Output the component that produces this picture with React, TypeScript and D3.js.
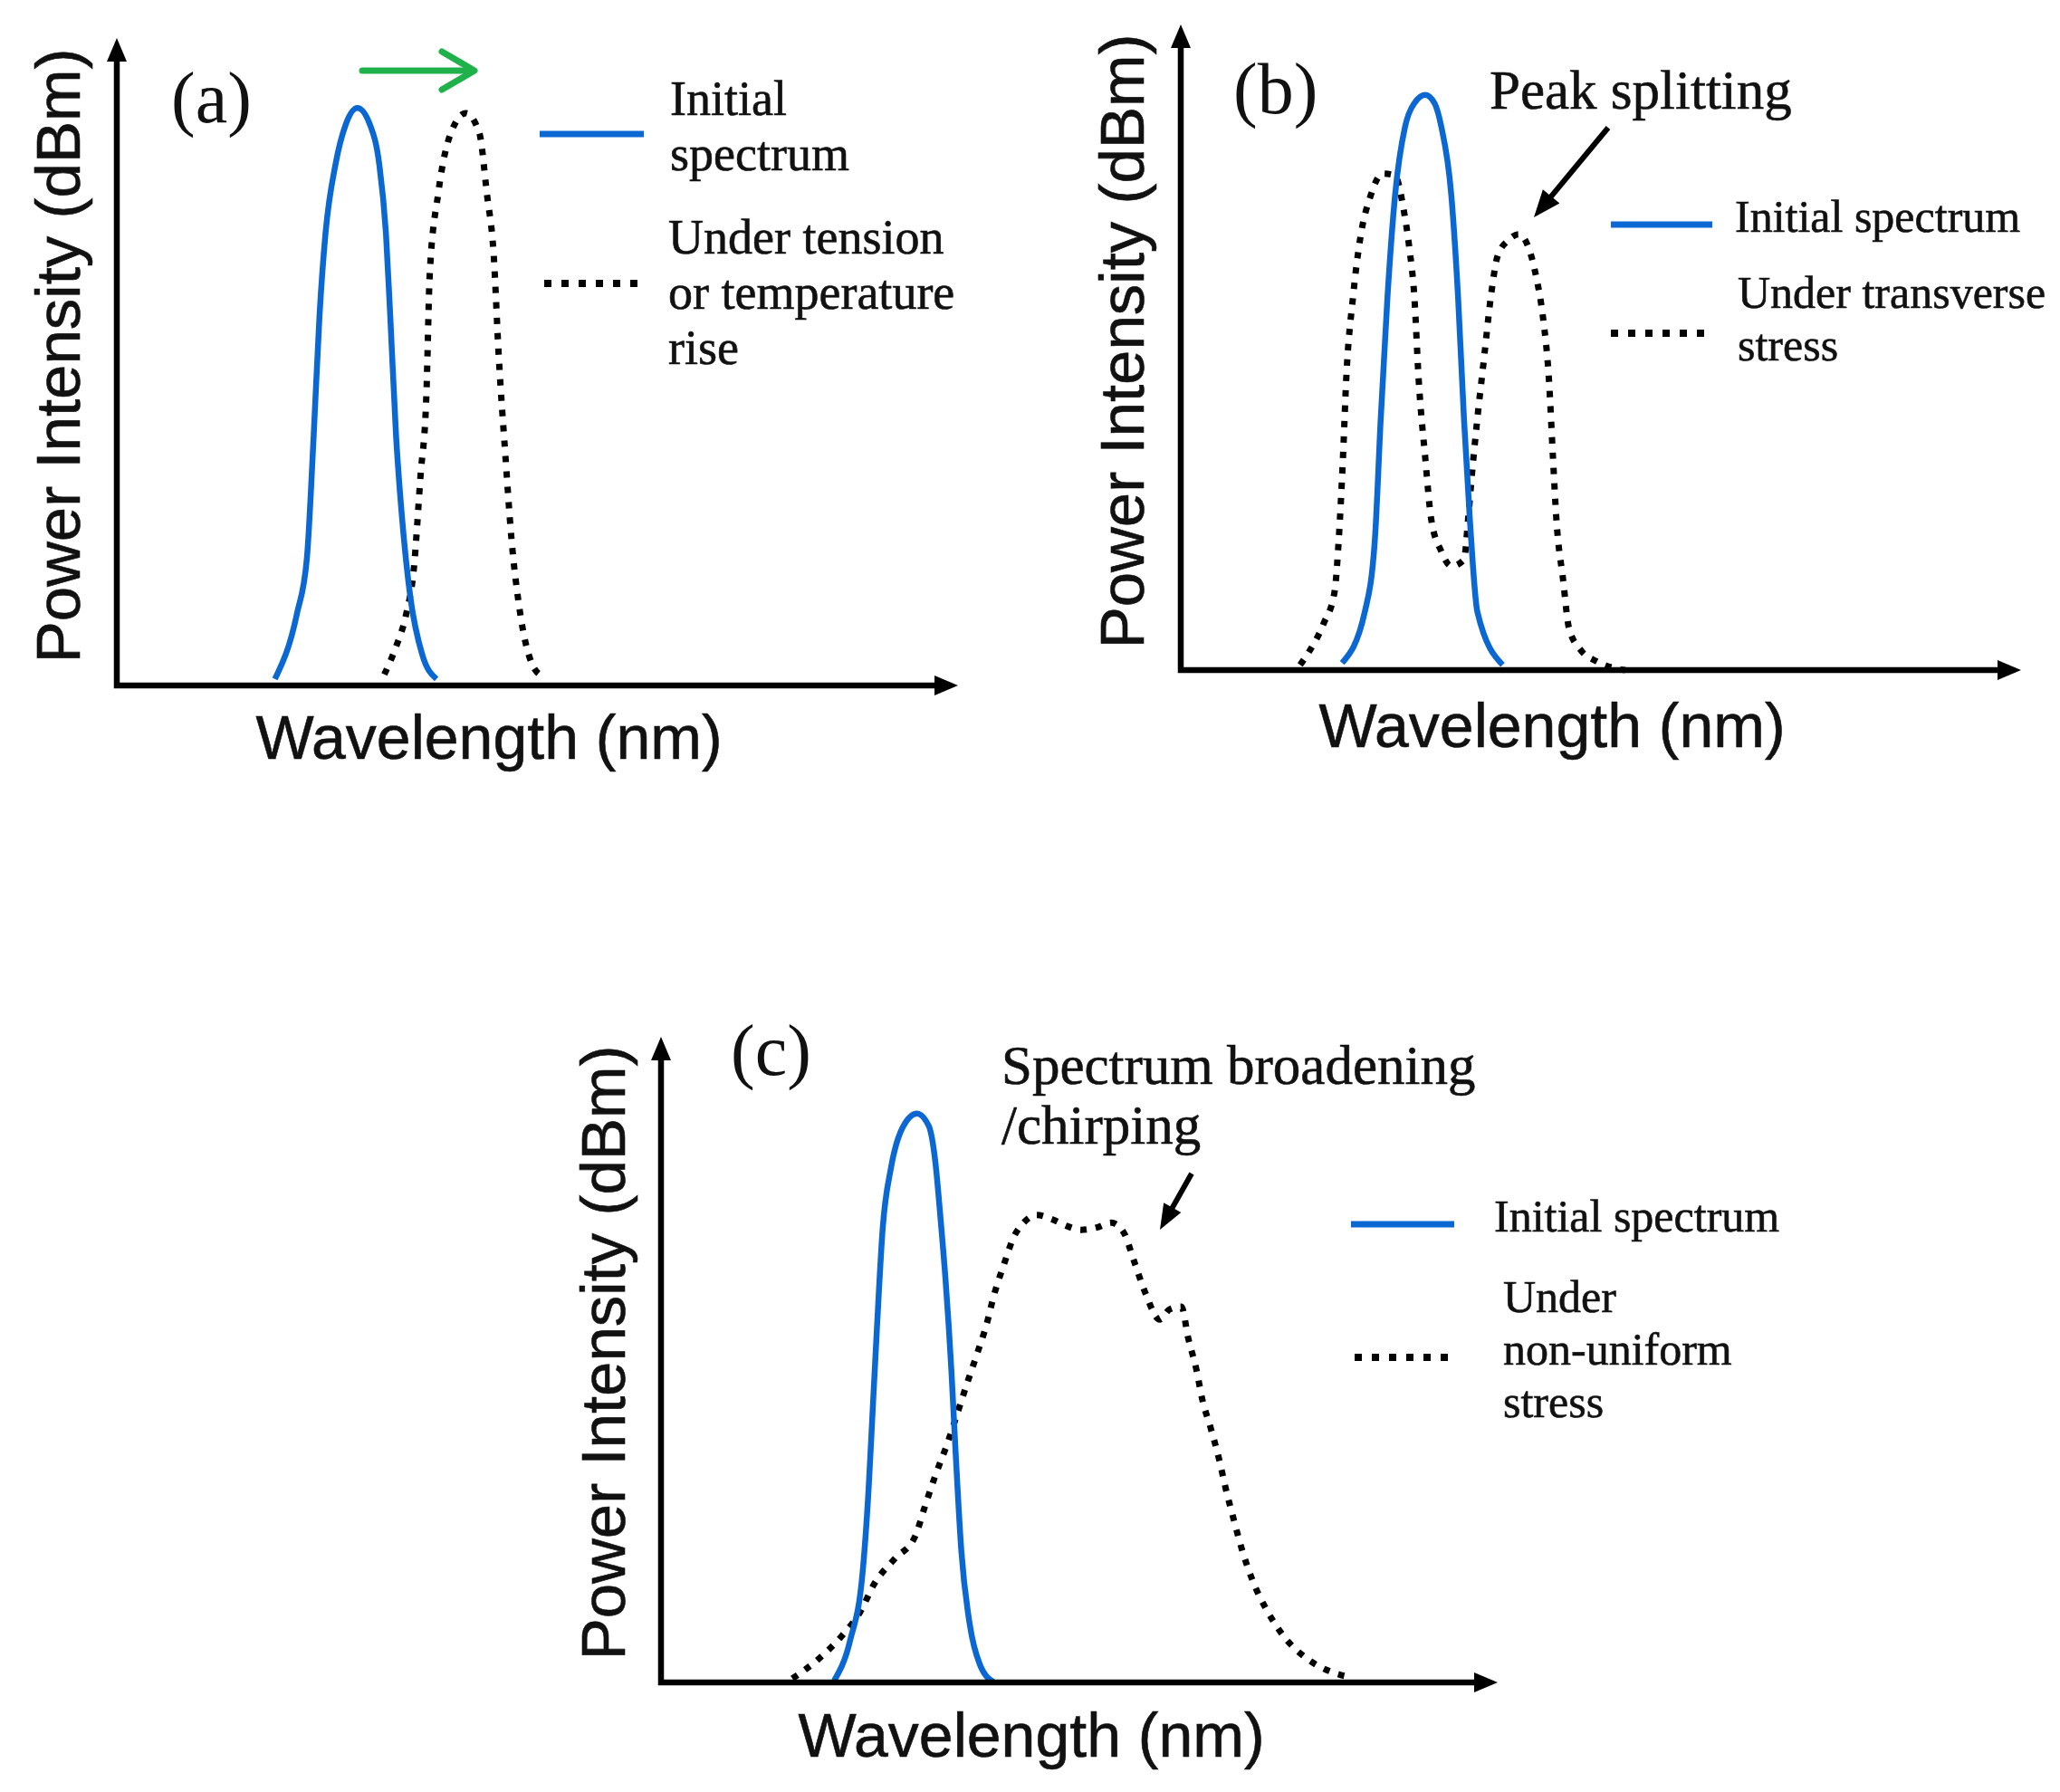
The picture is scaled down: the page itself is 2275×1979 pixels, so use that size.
import React from 'react';
import * as d3 from 'd3';

type Pt = [number, number];

// ---- Panel (a): shift of the Bragg peak ----
const initialA: Pt[] = [
  [18.8, 1], [21.4, 11.0], [22.6, 19.7], [23.4, 38.5], [24.1, 57.2], [24.8, 69.7], [26.0, 80.5],
  [27.2, 86.6], [28.6, 89.2], [30.1, 86.6], [31.2, 80.5], [32.0, 69.7], [32.5, 57.2], [33.2, 38.5],
  [33.9, 26.0], [34.9, 13.6], [36.3, 4.8], [38.0, 1.0],
];
const tensionA: Pt[] = [
  [31.8, 1.7], [33.2, 6.0], [34.4, 11.0], [35.3, 17.9], [36.1, 32.3], [36.8, 44.8], [37.2, 63.5],
  [38.2, 75.9], [39.7, 85.3], [41.5, 88.4], [43.1, 85.3], [44.0, 75.9], [44.8, 66.6], [45.4, 51.0],
  [46.2, 35.4], [46.9, 22.9], [47.9, 11.6], [49.3, 3.5], [50.5, 1.5],
];

// ---- Panel (b): peak splitting ----
const initialB: Pt[] = [
  [19.2, 1.1], [21.9, 9.0], [23.1, 20.2], [23.8, 39.0], [24.6, 57.8], [25.5, 73.5], [26.7, 84.2],
  [27.8, 87.8], [29.1, 89.1], [30.2, 87.8], [31.0, 84.2], [32.2, 73.5], [33.0, 57.8], [33.7, 39.0],
  [34.4, 23.4], [35.3, 9.0], [38.3, 0.8],
];
const transverseB: Pt[] = [
  [14.2, 0.8], [15.2, 2.7], [17.0, 7.2], [18.3, 12.1], [18.8, 20.2], [19.3, 32.8], [19.7, 45.3],
  [20.5, 57.8], [21.4, 67.2], [22.6, 73.5], [24.0, 76.9], [25.5, 76.6], [26.5, 71.5], [27.2, 65.4],
  [27.8, 57.8], [28.3, 45.3], [29.1, 32.8], [29.8, 23.4], [31.0, 18.4], [32.2, 16.1], [33.7, 17.1],
  [34.2, 23.4], [34.6, 29.6], [35.3, 39.0], [36.1, 48.4], [36.9, 57.8], [37.7, 64.1], [39.0, 66.6],
  [40.2, 67.5], [41.4, 65.4], [42.3, 60.9], [43.1, 54.7], [43.8, 45.3], [44.3, 32.8], [44.7, 23.4],
  [45.5, 14.0], [46.2, 6.5], [47.6, 3.1], [49.4, 1.4], [50.8, 0.6], [52.9, 0],
];

// ---- Panel (c): broadening / chirping ----
const initialC: Pt[] = [
  [20.7, 0.3], [22.6, 6.5], [24.1, 17.1], [24.8, 29.7], [25.3, 42.2], [25.8, 54.7], [26.5, 70.4],
  [27.5, 79.8], [28.9, 86.0], [30.6, 88.1], [32.0, 86.2], [32.8, 80.5], [33.4, 72.0], [34.0, 62.5],
  [34.7, 48.5], [35.2, 35.9], [35.9, 20.3], [36.9, 9.0], [38.1, 2.8], [39.8, 0],
];
const nonUniformC: Pt[] = [
  [15.7, 0.6], [18.8, 3.6], [21.6, 7.2], [23.8, 10.9], [25.5, 15.3], [27.9, 19.1], [30.4, 22.7],
  [31.6, 27.5], [32.8, 32.1], [34.2, 36.9], [35.3, 41.2], [36.5, 46.0], [37.7, 50.6], [38.9, 55.4],
  [39.8, 60.0], [41.0, 64.8], [42.2, 69.1], [43.2, 71.0], [44.9, 72.4], [46.8, 71.7], [48.5, 70.7],
  [50.2, 70.1], [52.2, 70.5], [53.8, 71.2], [55.3, 69.7], [56.5, 65.4], [57.9, 60.3], [59.6, 56.2],
  [60.8, 57.8], [62.2, 58.2], [63.0, 53.4], [64.0, 48.4], [64.7, 43.8], [65.7, 39.4], [66.7, 34.6],
  [67.5, 30.0], [68.5, 25.0], [69.5, 20.3], [70.7, 15.8], [72.4, 11.2], [74.4, 7.2], [77.3, 3.6],
  [80.4, 1.5], [82.4, 0.8],
];

// ---- texts ----
const xAxisLabel = 'Wavelength (nm)';
const yAxisLabel = 'Power Intensity (dBm)';
const panelTags = ['(a)', '(b)', '(c)'];
const legendInitialA = ['Initial', 'spectrum'];
const legendStressA = ['Under tension', 'or temperature', 'rise'];
const legendInitialB = ['Initial spectrum'];
const legendStressB = ['Under transverse', 'stress'];
const annotationB = ['Peak splitting'];
const legendInitialC = ['Initial spectrum'];
const legendStressC = ['Under', 'non-uniform', 'stress'];
const annotationC = ['Spectrum broadening', '/chirping'];

const BLUE = '#0b67d1';
const GREEN = '#1fb24a';
const SANS = '"Liberation Sans", Arial, sans-serif';
const SERIF = '"Liberation Serif", "Times New Roman", serif';
const DOT = '7 10';

const lineGen = (sx: d3.ScaleLinear<number, number>, sy: d3.ScaleLinear<number, number>) =>
  d3
    .line<Pt>()
    .x((d) => sx(d[0]))
    .y((d) => sy(d[1]))
    .curve(d3.curveMonotoneX);

function FilledArrow({ x1, y1, x2, y2, len = 30, half = 12, width = 6 }: any) {
  const ang = Math.atan2(y2 - y1, x2 - x1);
  const bx = x2 - len * Math.cos(ang);
  const by = y2 - len * Math.sin(ang);
  const px = -Math.sin(ang) * half;
  const py = Math.cos(ang) * half;
  return (
    <g>
      <line x1={x1} y1={y1} x2={bx + Math.cos(ang) * 2} y2={by + Math.sin(ang) * 2} stroke="#000" strokeWidth={width} />
      <polygon points={`${x2},${y2} ${bx + px},${by + py} ${bx - px},${by - py}`} fill="#000" />
    </g>
  );
}

function Lines({ lines, x, y, size, lh }: { lines: string[]; x: number; y: number; size: number; lh: number }) {
  return (
    <text x={x} y={y} fontFamily={SERIF} fontSize={size} fill="#111" stroke="#111" strokeWidth={0.6}>
      {lines.map((t, i) => (
        <tspan key={i} x={x} dy={i === 0 ? 0 : lh}>
          {t}
        </tspan>
      ))}
    </text>
  );
}

function Panel({ cfg }: { cfg: any }) {
  const sx = d3.scaleLinear().domain([0, 100]).range([cfg.x0, cfg.xTip]);
  const sy = d3.scaleLinear().domain([0, 100]).range([cfg.y0, cfg.yTop]);
  const gen = lineGen(sx, sy);
  const ah = 26;
  const aw = 11;
  return (
    <g>
      {/* curves */}
      <path d={gen(cfg.dotted) || ''} fill="none" stroke="#000" strokeWidth={7} strokeDasharray={DOT} />
      <path d={gen(cfg.solid) || ''} fill="none" stroke={BLUE} strokeWidth={6.5} />
      {/* axes */}
      <path
        d={`M${sx(0)},${sy(100) + ah - 2} L${sx(0)},${sy(0)} L${sx(100) - ah + 2},${sy(0)}`}
        fill="none"
        stroke="#000"
        strokeWidth={6.5}
        strokeLinejoin="miter"
      />
      <polygon
        points={`${sx(0)},${sy(100)} ${sx(0) - aw},${sy(100) + ah} ${sx(0) + aw},${sy(100) + ah}`}
        fill="#000"
      />
      <polygon
        points={`${sx(100)},${sy(0)} ${sx(100) - ah},${sy(0) - aw} ${sx(100) - ah},${sy(0) + aw}`}
        fill="#000"
      />
      {/* axis labels */}
      <text x={cfg.xl[0]} y={cfg.xl[1]} textAnchor="middle" fontFamily={SANS} fontSize={68} fill="#111" stroke="#111" strokeWidth={0.6}>
        {xAxisLabel}
      </text>
      <text
        transform={`translate(${cfg.yl[0]},${cfg.yl[1]}) rotate(-90)`}
        textAnchor="middle"
        fontFamily={SANS}
        fontSize={69}
        fill="#111"
        stroke="#111"
        strokeWidth={0.6}
      >
        {yAxisLabel}
      </text>
      {/* panel tag */}
      <text x={cfg.tag[0]} y={cfg.tag[1]} fontFamily={SERIF} fontSize={80} fill="#111">
        {cfg.tagText}
      </text>
      {/* legend */}
      <line x1={cfg.lgSolid[0]} x2={cfg.lgSolid[1]} y1={cfg.lgSolid[2]} y2={cfg.lgSolid[2]} stroke={BLUE} strokeWidth={7} />
      <line
        x1={cfg.lgDot[0]}
        x2={cfg.lgDot[1]}
        y1={cfg.lgDot[2]}
        y2={cfg.lgDot[2]}
        stroke="#000"
        strokeWidth={8}
        strokeDasharray="8 11"
      />
      <Lines lines={cfg.solidText} x={cfg.stPos[0]} y={cfg.stPos[1]} size={cfg.lgSize} lh={cfg.lh} />
      <Lines lines={cfg.dotText} x={cfg.dtPos[0]} y={cfg.dtPos[1]} size={cfg.lgSize} lh={cfg.lh} />
    </g>
  );
}

const panelA = {
  x0: 129, y0: 757, xTip: 1058, yTop: 42,
  solid: initialA, dotted: tensionA,
  xl: [540, 838], yl: [88, 393],
  tag: [189, 135], tagText: panelTags[0],
  lgSolid: [596, 711, 148], lgDot: [601, 707, 313],
  solidText: legendInitialA, stPos: [740, 127],
  dotText: legendStressA, dtPos: [738, 280],
  lgSize: 54, lh: 61,
};
const panelB = {
  x0: 1304, y0: 740, xTip: 2232, yTop: 27,
  solid: initialB, dotted: transverseB,
  xl: [1714, 825], yl: [1263, 377],
  tag: [1362, 125], tagText: panelTags[1],
  lgSolid: [1779, 1891, 248], lgDot: [1779, 1886, 368],
  solidText: legendInitialB, stPos: [1916, 256],
  dotText: legendStressB, dtPos: [1919, 340],
  lgSize: 50, lh: 58,
};
const panelC = {
  x0: 730, y0: 1858, xTip: 1654, yTop: 1145,
  solid: initialC, dotted: nonUniformC,
  xl: [1139, 1940], yl: [690, 1494],
  tag: [807, 1187], tagText: panelTags[2],
  lgSolid: [1492, 1606, 1352], lgDot: [1496, 1600, 1499],
  solidText: legendInitialC, stPos: [1650, 1360],
  dotText: legendStressC, dtPos: [1660, 1449],
  lgSize: 50, lh: 58,
};

export default function App() {
  return (
    <svg
      width={2275}
      height={1979}
      viewBox="0 0 2275 1979"
      style={{ position: 'absolute', left: 0, top: 0, background: '#fff' }}
    >
      <rect x={0} y={0} width={2275} height={1979} fill="#fff" />
      <Panel cfg={panelA} />
      <Panel cfg={panelB} />
      <Panel cfg={panelC} />

      {/* green shift arrow (a) */}
      <g stroke={GREEN} strokeWidth={7} fill="none" strokeLinecap="round" strokeLinejoin="round">
        <line x1={400} y1={78} x2={522} y2={78} />
        <polyline points="488,57 524,78 488,99" />
      </g>

      {/* annotation (b) */}
      <Lines lines={annotationB} x={1645} y={120} size={61} lh={60} />
      <FilledArrow x1={1776} y1={141} x2={1694} y2={240} />

      {/* annotation (c) */}
      <Lines lines={annotationC} x={1106} y={1197} size={61} lh={66} />
      <FilledArrow x1={1316} y1={1296} x2={1281} y2={1358} len={28} half={11} />
    </svg>
  );
}
